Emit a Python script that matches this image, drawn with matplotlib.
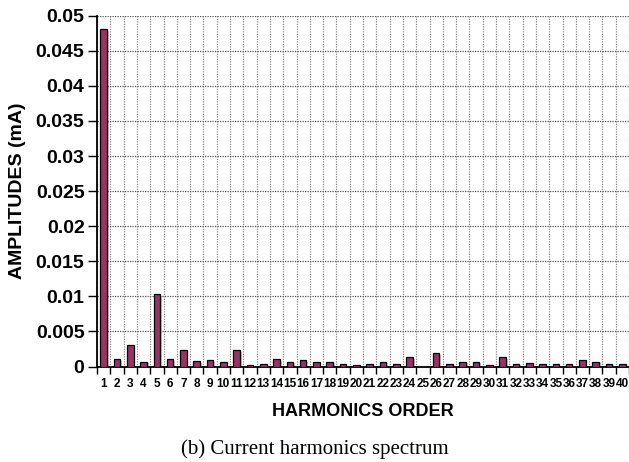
import matplotlib
matplotlib.use("Agg")
import matplotlib.pyplot as plt
import matplotlib.patheffects as pe
import numpy as np

orders = list(range(1, 41))
amplitudes = [
    0.0481, 0.0010, 0.0030, 0.0007, 0.0103, 0.0010, 0.0023, 0.0008, 0.0009, 0.0007,
    0.0023, 0.00025, 0.0004, 0.0010, 0.0007, 0.0009, 0.0006, 0.0007, 0.0003, 0.00025,
    0.0003, 0.0007, 0.0004, 0.0013, 0.0, 0.0019, 0.00035, 0.0007, 0.0007, 0.00025,
    0.0013, 0.0004, 0.0005, 0.0003, 0.0003, 0.00035, 0.0009, 0.0007, 0.0004, 0.0004,
]
yticks = [0, 0.005, 0.01, 0.015, 0.02, 0.025, 0.03, 0.035, 0.04, 0.045, 0.05]
ytick_labels = ["0", "0.005", "0.01", "0.015", "0.02", "0.025", "0.03",
                "0.035", "0.04", "0.045", "0.05"]

plt.rcParams["font.family"] = ["Liberation Sans", "DejaVu Sans"]

fig = plt.figure(figsize=(6.29, 4.62), dpi=100)
ax = fig.add_axes([97 / 629, 1 - 366.5 / 462, 1 - 97 / 629, (366.5 - 15.7) / 462])

bars = ax.bar(orders, amplitudes, width=0.5, color="#993366",
              edgecolor="black", linewidth=0.9, zorder=3)
for b in bars:
    b.set_path_effects([pe.SimplePatchShadow(offset=(1.2, -1.2), alpha=0.25),
                        pe.Normal()])

ax.set_xlim(0.5, 40.5)
ax.set_ylim(0, 0.05)

# major ticks at category boundaries (grid + tick marks), labels at centres
ax.set_xticks(np.arange(0.5, 41, 1.0))
ax.set_xticklabels([])
ax.set_xticks(orders, minor=True)
ax.set_xticklabels([str(o) for o in orders], minor=True,
                   fontsize=8.5, fontweight="bold")
ax.tick_params(axis="x", which="major", direction="out", length=5,
               width=1, color="black")
ax.tick_params(axis="x", which="minor", length=0, pad=8)

ax.set_yticks(yticks)
ax.set_yticklabels(ytick_labels, fontsize=14, fontweight="bold")
ax.tick_params(axis="y", direction="out", length=6.5, width=1, pad=2.5)

ax.grid(axis="y", color="#555555", linestyle=(0, (1, 1)), linewidth=0.9, zorder=0)
ax.grid(axis="x", which="major", color="#888888", linestyle=(0, (1, 1)),
        linewidth=0.9, zorder=0)
ax.set_axisbelow(True)

for side in ("top", "right"):
    ax.spines[side].set_visible(False)
for side in ("left", "bottom"):
    ax.spines[side].set_linewidth(1.3)

ax.set_xlabel("HARMONICS ORDER", fontsize=13, fontweight="bold", labelpad=10)
ax.set_ylabel("AMPLITUDES (mA)", fontsize=14, fontweight="bold")
ax.yaxis.set_label_coords(-(97 - 26) / 532, 0.5)

fig.text(0.5, 1 - 449 / 462, "(b) Current harmonics spectrum", ha="center",
         va="center", fontsize=15, family=["Liberation Serif", "DejaVu Serif"])

fig.savefig("out.png", dpi=100)
